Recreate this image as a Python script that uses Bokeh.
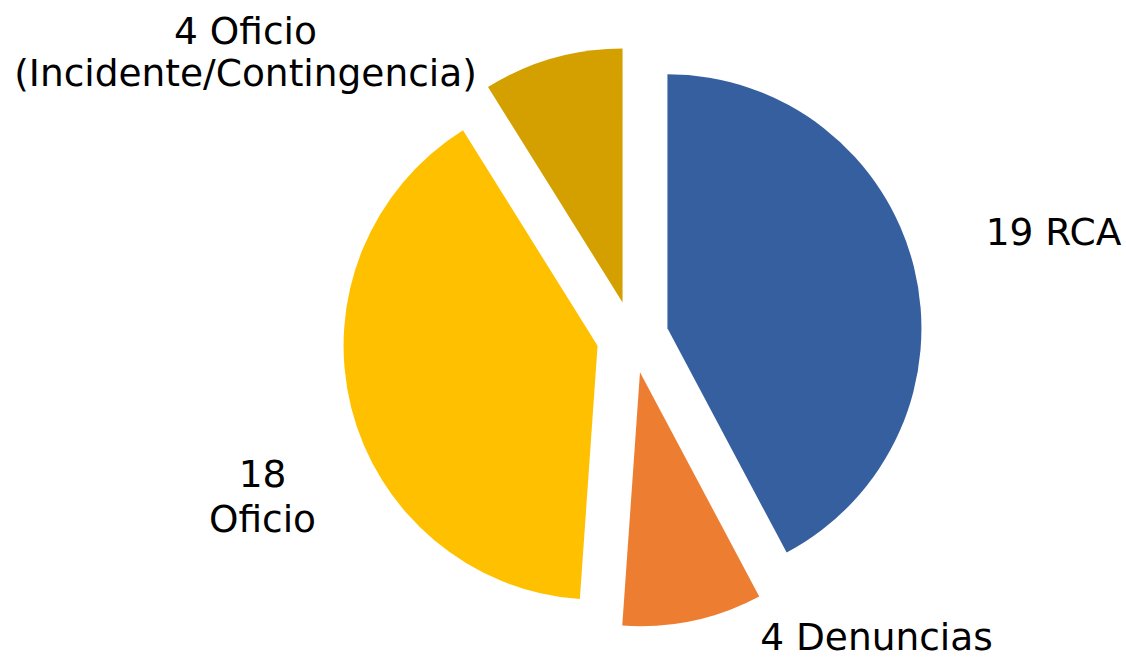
import math
from bokeh.plotting import figure
from bokeh.models import Range1d, ColumnDataSource
from bokeh.core.properties import value
from bokeh.embed import file_html
from bokeh.resources import INLINE

# ---- data ----
categories = ["RCA", "Denuncias", "Oficio", "Oficio (Incidente/Contingencia)"]
counts = [19, 4, 18, 4]
label_lines = [["19 RCA"], ["4 Denuncias"], ["18", "Oficio"],
               ["4 Oficio", "(Incidente/Contingencia)"]]
colors = ["#365FA0", "#ED7D31", "#FFC000", "#D4A000"]

# ---- layout (picture-pixel coordinates) ----
W, H = 1126, 658
CX, CY = 632, H - 336.5      # pie centre
R = 254                      # radius
EXPLODE = 36                 # explode distance
TEXT_SHIFT = 13              # compensation for renderer baseline offset
# label centre x and baseline y (picture px) for each line
label_pos = [
    [(1053, 244)],
    [(876, 649)],
    [(262, 486), (262, 531)],
    [(245, 43), (245, 85)],
]

p = figure(width=W, height=H, output_backend="svg", toolbar_location=None,
           x_range=Range1d(0, W), y_range=Range1d(0, H),
           x_axis_type=None, y_axis_type=None, min_border=0,
           outline_line_color=None)
p.grid.visible = False
p.background_fill_color = "white"
p.border_fill_color = "white"

total = sum(counts)
xs, ys, starts, ends = [], [], [], []
acc = 0.0
for v in counts:
    t1 = acc / total * 2 * math.pi
    acc += v
    t2 = acc / total * 2 * math.pi
    mid = (t1 + t2) / 2
    xs.append(CX + EXPLODE * math.sin(mid))
    ys.append(CY + EXPLODE * math.cos(mid))
    starts.append(math.pi / 2 - t1)
    ends.append(math.pi / 2 - t2)

src = ColumnDataSource(dict(x=xs, y=ys, start=starts, end=ends, color=colors,
                            cat=categories, count=counts))
p.wedge(x="x", y="y", radius=R, start_angle="start", end_angle="end",
        direction="clock", fill_color="color", line_color=None, source=src)

tx, ty, tt = [], [], []
for lines, pos in zip(label_lines, label_pos):
    for line, (px, py) in zip(lines, pos):
        tx.append(px)
        ty.append(H - py + TEXT_SHIFT)
        tt.append(line)
p.text(x=tx, y=ty, text=tt, text_font=value("DejaVu Sans"),
       text_font_size="37.5px", text_align="center", text_baseline="alphabetic",
       text_color="#000000")

open("out.html", "w").write(file_html(p, INLINE))
